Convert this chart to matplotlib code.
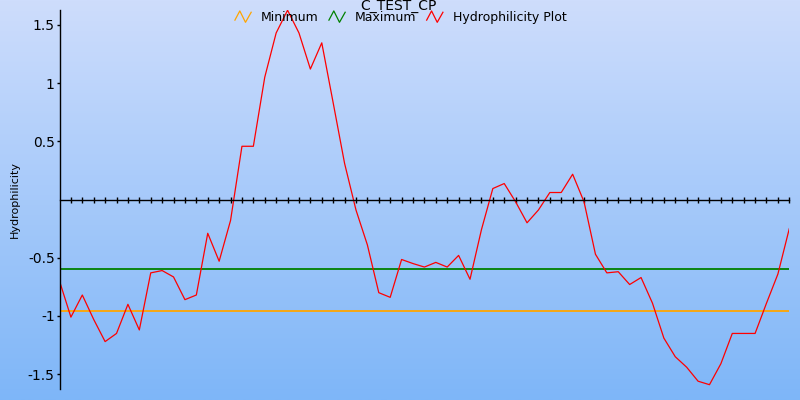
import numpy as np
import matplotlib
matplotlib.use('Agg')
import matplotlib.pyplot as plt
from matplotlib.lines import Line2D
from matplotlib.legend_handler import HandlerBase

# data
hydro = [-0.70, -1.01, -0.82, -1.03, -1.22, -1.15, -0.90, -1.12, -0.63, -0.61,
         -0.665, -0.86, -0.82, -0.29, -0.53, -0.18, 0.457, 0.457, 1.05, 1.43,
         1.625, 1.43, 1.12, 1.345, 0.83, 0.31, -0.09, -0.39, -0.80, -0.84,
         -0.515, -0.55, -0.58, -0.54, -0.58, -0.48, -0.685, -0.26, 0.094, 0.137,
         -0.02, -0.20, -0.09, 0.06, 0.06, 0.217, -0.02, -0.47, -0.63, -0.62,
         -0.73, -0.67, -0.89, -1.19, -1.35, -1.44, -1.56, -1.59, -1.41, -1.15,
         -1.15, -1.15, -0.89, -0.64, -0.25]
minimum = -0.954
maximum = -0.593
yticks = [-1.5, -1, -0.5, 0.5, 1, 1.5]
ytick_labels = ['-1.5', '-1', '-0.5', '0.5', '1', '1.5']
title = 'C_TEST_CP'

x = np.arange(len(hydro))


class ZigZag(HandlerBase):
    def create_artists(self, legend, orig, xd, yd, w, h, fontsize, trans):
        xs = np.array([0.0, 0.3, 0.65, 1.0]) * w - xd
        ys = np.array([0.1, 1.15, -0.15, 1.0]) * h - yd
        ln = Line2D(xs, ys, color=orig.get_color(), lw=0.9, transform=trans)
        return [ln]


fig = plt.figure(figsize=(8, 4), dpi=100)

# gradient background
bg = fig.add_axes([0, 0, 1, 1], zorder=-1)
top = np.array([206, 221, 252]) / 255
bot = np.array([126, 182, 248]) / 255
t = np.linspace(0, 1, 256)[:, None]
grad = (top * (1 - t) + bot * t)[:, None, :]
bg.imshow(grad, aspect='auto', extent=[0, 1, 0, 1])
bg.axis('off')

ax = fig.add_axes([59.5 / 800, 11 / 400, (789.3 - 59.5) / 800, 379 / 400])
ax.patch.set_alpha(0)

l_min, = ax.plot([x[0], x[-1]], [minimum, minimum], color='#ffa500', lw=1.3, label='Minimum')
l_max, = ax.plot([x[0], x[-1]], [maximum, maximum], color='#008000', lw=1.3, label='Maximum')
l_h, = ax.plot(x, hydro, color='red', lw=0.9, label='Hydrophilicity Plot')

ax.set_xlim(0, len(hydro) - 1)
ax.set_ylim(-1.627, 1.627)
ax.spines['top'].set_visible(False)
ax.spines['right'].set_visible(False)
ax.spines['bottom'].set_position(('data', 0))
ax.spines['left'].set_linewidth(1)
ax.spines['bottom'].set_linewidth(1)

ax.set_xticks(x[1:])
ax.set_xticklabels([])
ax.tick_params(axis='x', direction='inout', length=4, width=1)
ax.set_yticks(yticks)
ax.set_yticklabels(ytick_labels)
ax.tick_params(axis='y', direction='out', length=2.5, width=1, labelsize=10, pad=1)

fig.text(15 / 800, 1 - 199.5 / 400, 'Hydrophilicity', rotation=90,
         ha='center', va='center', fontsize=8)
fig.text(0.4975, 1 - 9.5 / 400, title, ha='center', va='baseline', fontsize=10)

fig.legend(handles=[l_min, l_max, l_h], loc='upper center', bbox_to_anchor=(0.501, 1 - 11 / 400),
           ncol=3, frameon=False, fontsize=9, handlelength=1.3, handletextpad=0.8,
           columnspacing=0.8, borderpad=0, borderaxespad=0,
           handler_map={Line2D: ZigZag()})

fig.savefig('out.png', dpi=100)
